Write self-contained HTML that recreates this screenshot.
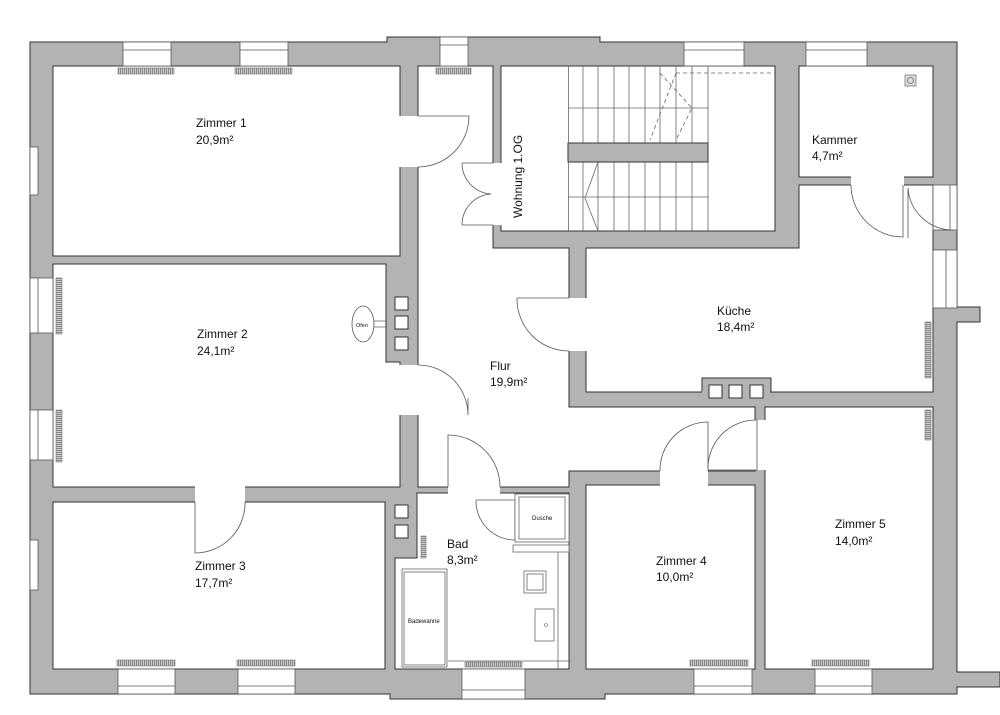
<!DOCTYPE html>
<html><head><meta charset="utf-8"><style>
html,body{margin:0;padding:0;background:#fff;}
svg{display:block;}
text{font-family:"Liberation Sans",sans-serif;fill:#111;}
</style></head><body>
<svg width="1000" height="715" viewBox="0 0 1000 715" xmlns="http://www.w3.org/2000/svg">
<defs>
<pattern id="rad" width="2" height="2" patternUnits="userSpaceOnUse"><rect width="2" height="2" fill="#ccc"/><rect width="1" height="2" fill="#888"/></pattern>
<pattern id="radv" width="2" height="2" patternUnits="userSpaceOnUse"><rect width="2" height="2" fill="#ccc"/><rect width="2" height="1" fill="#888"/></pattern>
</defs>
<g stroke="#333" stroke-width="1">
<polygon fill="#b3b3b3" points="30,42 387,42 387,37 600,37 600,42 957,42 957,307 980,307 980,322 957,322 957,672 1000,672 1000,687 957,687 957,694 605,694 605,699 390,699 390,694 30,694"/>
<g fill="#fff">
<polygon points="53,66 400,66 400,256 53,256"/>
<polygon points="53,264 386,264 386,362 400,362 400,487 53,487"/>
<polygon points="53,502 385,502 385,669 53,669"/>
<polygon points="395,558 417,558 417,493 569,493 569,669 395,669"/>
<polygon points="586,485 755,485 755,669 586,669"/>
<polygon points="765,407 933,407 933,669 765,669"/>
<polygon points="586,248 799,248 799,185 933,185 933,392 586,392"/>
<polygon points="799,66 933,66 933,177 799,177"/>
<polygon points="501,66 775,66 775,231 501,231"/>
<polygon points="418,66 493,66 493,248 569,248 569,407 755,407 755,471 569,471 569,487 418,487"/>
</g>
</g>
<g fill="#fff">
<rect x="399" y="116" width="20" height="51"/>
<rect x="399" y="365" width="20" height="50"/>
<rect x="195" y="486" width="50" height="17"/>
<rect x="568" y="298" width="19" height="53"/>
<rect x="851" y="176" width="53" height="10"/>
<rect x="492" y="163" width="10" height="62"/>
<rect x="448" y="486" width="52" height="8"/>
<rect x="660" y="470" width="48" height="16"/>
<rect x="754" y="420" width="12" height="50"/>
</g>
<g fill="#fff" stroke="#555" stroke-width="0.8">
<rect x="123" y="42" width="48" height="24"/><line x1="123" y1="50" x2="171" y2="50"/>
<rect x="240" y="42" width="48" height="24"/><line x1="240" y1="50" x2="288" y2="50"/>
<rect x="440" y="37" width="28" height="29"/><line x1="440" y1="45" x2="468" y2="45"/>
<rect x="684" y="42" width="60" height="24"/><line x1="684" y1="50" x2="744" y2="50"/>
<rect x="806" y="42" width="61" height="24"/><line x1="806" y1="50" x2="867" y2="50"/>
<rect x="30" y="147" width="8" height="48"/>
<rect x="30" y="278" width="23" height="55"/><line x1="38" y1="278" x2="38" y2="333"/>
<rect x="30" y="410" width="23" height="50"/><line x1="38" y1="410" x2="38" y2="460"/>
<rect x="30" y="540" width="8" height="50"/>
<rect x="933" y="185" width="24" height="45"/><line x1="950" y1="185" x2="950" y2="230"/>
<rect x="933" y="250" width="24" height="58"/><line x1="946" y1="250" x2="946" y2="308"/>
<rect x="118" y="669" width="57" height="25"/><line x1="118" y1="686" x2="175" y2="686"/>
<rect x="238" y="669" width="57" height="25"/><line x1="238" y1="686" x2="295" y2="686"/>
<rect x="462" y="669" width="63" height="30"/><line x1="462" y1="690" x2="525" y2="690"/>
<rect x="694" y="669" width="58" height="25"/><line x1="694" y1="686" x2="752" y2="686"/>
<rect x="815" y="669" width="57" height="25"/><line x1="815" y1="686" x2="872" y2="686"/>
</g>
<g stroke="#777" stroke-width="0.6">
<rect x="118" y="68" width="56" height="6" fill="url(#rad)"/>
<rect x="235" y="68" width="57" height="6" fill="url(#rad)"/>
<rect x="436" y="68" width="35" height="6" fill="url(#rad)"/>
<rect x="117" y="660" width="58" height="6" fill="url(#rad)"/>
<rect x="237" y="660" width="58" height="6" fill="url(#rad)"/>
<rect x="465" y="662" width="57" height="5" fill="url(#rad)"/>
<rect x="690" y="660" width="58" height="6" fill="url(#rad)"/>
<rect x="812" y="660" width="57" height="6" fill="url(#rad)"/>
<rect x="56" y="278" width="6" height="56" fill="url(#radv)"/>
<rect x="56" y="410" width="6" height="52" fill="url(#radv)"/>
<rect x="421" y="536" width="5" height="22" fill="url(#radv)"/>
<rect x="925" y="322" width="6" height="56" fill="url(#radv)"/>
<rect x="925" y="410" width="6" height="30" fill="url(#radv)"/>
</g>
<g fill="#fff" stroke="#333" stroke-width="1">
<rect x="395" y="297" width="13" height="13"/><rect x="395" y="316" width="13" height="13"/><rect x="395" y="337" width="13" height="13"/>
<rect x="395" y="505" width="13" height="13"/><rect x="395" y="525" width="13" height="13"/>
</g>
<rect x="702" y="378" width="69" height="14" fill="#b3b3b3" stroke="#333"/>
<rect x="702" y="391" width="68" height="3" fill="#b3b3b3"/>
<g fill="#fff" stroke="#333"><rect x="709" y="385" width="13" height="13"/><rect x="729" y="385" width="13" height="13"/><rect x="750" y="385" width="13" height="13"/></g>
<g stroke="#666" stroke-width="0.8" fill="none">
<path d="M583,66V143M598,66V143M614,66V143M629,66V143M645,66V143M660,66V143M676,66V143M692,66V143M708,66V143"/>
<path d="M568,108H708"/>
<path d="M583,162V231M598,162V231M614,162V231M629,162V231M645,162V231M660,162V231M676,162V231M692,162V231M708,162V231"/>
<path d="M568,197H708"/>
<path d="M598,162L585,198L598,231"/>
<path d="M676,73L650,140M660,73L692,108L676,140" stroke-dasharray="4,3"/>
<path d="M676,73H775" stroke-dasharray="4,3"/>
</g>
<rect x="568" y="143" width="140" height="19" fill="#b3b3b3" stroke="#333"/>
<rect x="568" y="66" width="0.8" height="165" fill="#666"/>
<g stroke="#555" stroke-width="0.8" fill="none">
<path d="M418,116H469A51,51 0 0 1 418,167"/>
<path d="M418,365A50,50 0 0 1 468,415V398"/>
<path d="M195,502V553A50,50 0 0 0 245,502"/>
<path d="M569,298H517A52,52 0 0 0 569,351"/>
<path d="M851,185A52,52 0 0 0 903,237V185"/>
<path d="M908,188V238M908,188A45,45 0 0 0 953,230"/>
<path d="M462,163H493M462,163A31,31 0 0 0 491,194M462,225H493M462,225A31,31 0 0 1 491,194"/>
<path d="M448,487V435A52,52 0 0 1 500,487"/>
<path d="M708,471V422A48,48 0 0 0 660,471"/>
<path d="M708,470H757V420A48,48 0 0 0 708,468"/>
<path d="M476,500H515V540A39,39 0 0 1 476,500"/>
</g>
<g fill="#fff" stroke="#666" stroke-width="0.8">
<rect x="515" y="494" width="54" height="48"/><rect x="519" y="497" width="46" height="42"/>
<rect x="513" y="545" width="56" height="7"/>
<line x1="558" y1="552" x2="558" y2="669"/>
<rect x="402" y="569" width="45" height="98"/><rect x="404" y="572" width="41" height="93"/>
<rect x="524" y="571" width="22" height="22"/><rect x="527" y="574" width="16" height="16"/>
<rect x="535" y="609" width="19" height="32"/>
<line x1="448" y1="661" x2="569" y2="661"/>
</g>
<circle cx="546" cy="625" r="1.5" fill="none" stroke="#666" stroke-width="0.6"/>
<rect x="905" y="75" width="11" height="11" fill="#ddd" stroke="#777" stroke-width="0.8"/>
<circle cx="910.5" cy="80.5" r="3" fill="none" stroke="#666" stroke-width="0.8"/>
<ellipse cx="363" cy="324" rx="11" ry="18" fill="#fff" stroke="#555" stroke-width="0.8"/>
<line x1="374" y1="321" x2="386" y2="321" stroke="#555" stroke-width="0.7"/>
<line x1="374" y1="327" x2="386" y2="327" stroke="#555" stroke-width="0.7"/>
<text x="356" y="327" font-size="5.5">Ofen</text>
<g font-size="12">
<text x="196" y="127">Zimmer 1</text><text x="196" y="144">20,9m²</text>
<text x="197" y="338">Zimmer 2</text><text x="197" y="355">24,1m²</text>
<text x="195" y="570">Zimmer 3</text><text x="195" y="587">17,7m²</text>
<text x="490" y="370">Flur</text><text x="490" y="386">19,9m²</text>
<text x="717" y="315">Küche</text><text x="717" y="331">18,4m²</text>
<text x="812" y="144">Kammer</text><text x="812" y="160">4,7m²</text>
<text x="656" y="565">Zimmer 4</text><text x="656" y="581">10,0m²</text>
<text x="835" y="528">Zimmer 5</text><text x="835" y="545">14,0m²</text>
<text x="447" y="548">Bad</text><text x="447" y="564">8,3m²</text>
<text transform="translate(522,218) rotate(-90)">Wohnung 1.OG</text>
</g>
<text x="532" y="520" font-size="6">Dusche</text>
<text x="408" y="623" font-size="6">Badewanne</text>
</svg>
</body></html>
